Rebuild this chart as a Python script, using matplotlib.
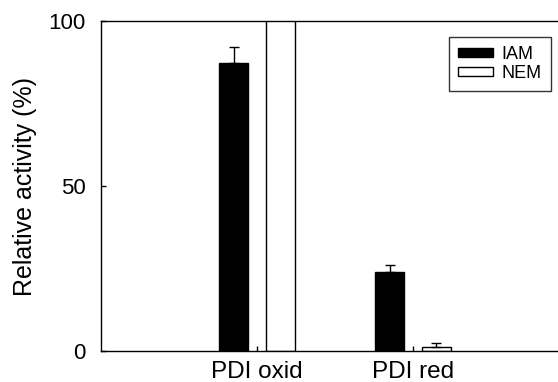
import matplotlib.pyplot as plt
import numpy as np
from matplotlib.patches import Patch

plt.rcParams['font.family'] = ['Liberation Sans', 'DejaVu Sans']

groups = ['PDI oxid', 'PDI red']
iam = np.array([87.3, 24.0])
iam_err = np.array([4.8, 2.1])
nem = np.array([105.0, 1.3])   # oxid bar runs off the top of the axis
nem_err = np.array([0.0, 1.2])

fig = plt.figure(figsize=(5.58, 3.82), dpi=100)
# axis runs on past the right edge of the picture (cropped scan)
ax = fig.add_axes([101/558, 31/382, 468/558, 330/382])

x = np.arange(1, len(groups) + 1)
w = 0.186
off = 0.15
ax.bar(x - off, iam, w, color='k', edgecolor='k', lw=1)
ax.errorbar(x - off, iam, yerr=[np.zeros_like(iam_err), iam_err], fmt='none',
            ecolor='k', elinewidth=1, capsize=3.6, capthick=1)
ax.bar(x + off, nem, w, color='w', edgecolor='k', lw=1)
ax.errorbar(x[1:] + off, nem[1:], yerr=[np.zeros(1), nem_err[1:]], fmt='none',
            ecolor='k', elinewidth=1, capsize=3.6, capthick=1)

ax.set_xlim(0, 3)
ax.set_ylim(0, 100)
ax.set_xticks(x)
ax.set_xticklabels(groups, fontsize=17.5)
ax.set_yticks([0, 50, 100])
ax.tick_params(axis='both', direction='in', length=3.6, width=1)
ax.tick_params(axis='x', labelsize=17.5, pad=7)
ax.tick_params(axis='y', labelsize=16, pad=11)
ax.set_ylabel('Relative activity (%)', fontsize=18, labelpad=8)
ax.spines['right'].set_visible(False)
for s in ['top', 'bottom', 'left']:
    ax.spines[s].set_linewidth(1)

handles = [Patch(facecolor='k', edgecolor='k', label='IAM'),
           Patch(facecolor='w', edgecolor='k', label='NEM')]
leg = ax.legend(handles=handles, loc='upper right',
                bbox_to_anchor=(551/558, (382-37)/382), bbox_transform=fig.transFigure,
                fontsize=13, frameon=True, fancybox=False, edgecolor='k',
                handlelength=1.95, handleheight=0.4, handletextpad=0.5,
                borderpad=0.5, labelspacing=0.1, borderaxespad=0)
leg.get_frame().set_linewidth(1)

fig.savefig('out.png', dpi=100)
